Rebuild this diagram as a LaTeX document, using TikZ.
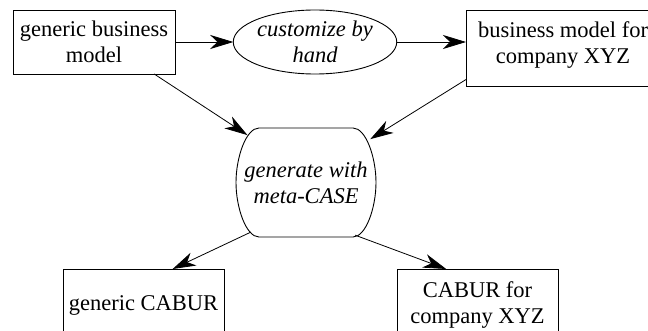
\documentclass[tikz,border=0pt]{standalone}
\usepackage{fontspec}
\setmainfont{Liberation Serif}
\usetikzlibrary{arrows.meta,shapes.geometric}
\begin{document}
\begin{tikzpicture}[x=1pt,y=-1pt,
  basefont/.style={font=\rmfamily\fontsize{22.5}{26}\selectfont},
  every node/.style={basefont, inner sep=0pt, outer sep=0pt, align=center},
  box/.style={draw, line width=0.9pt, rectangle},
  task/.style={font=\rmfamily\itshape\fontsize{22.5}{26}\selectfont},
  outline/.style={line width=0.9pt},
  link/.style={line width=0.8pt, -{Stealth[length=23pt,width=14pt,inset=7pt]}},
]
\useasboundingbox (0,0) rectangle (648,331);
\clip (0,0) rectangle (648,331);

% business models
\node[box, minimum width=162pt, minimum height=64pt] (A) at (94,42) {generic business\\model};
\node[task, draw, line width=0.9pt, ellipse, minimum width=160pt, minimum height=64pt] (B) at (315,42) {customize by\\hand};
\node[box, minimum width=194pt, minimum height=76pt] (C) at (563,48) {};
\node (Ct) at (563,44.75) {business model for\\company XYZ};

% generator: text node, its bulging outline drawn below
\node[task, ellipse, minimum width=176pt, minimum height=127pt] (D) at (306,182.5) {generate with\\meta-CASE};
\draw[outline] ([shift={(-47,-54.5)}]D.center) -- ([shift={(47,-54.5)}]D.center)
  .. controls ([shift={(60,-54.5)}]D.center) and ([shift={(70,-25)}]D.center) .. ([shift={(70,0)}]D.center)
  .. controls ([shift={(70,25)}]D.center) and ([shift={(60,54.5)}]D.center) .. ([shift={(47,54.5)}]D.center)
  -- ([shift={(-47,54.5)}]D.center)
  .. controls ([shift={(-60,54.5)}]D.center) and ([shift={(-70,25)}]D.center) .. ([shift={(-70,0)}]D.center)
  .. controls ([shift={(-70,-25)}]D.center) and ([shift={(-60,-54.5)}]D.center) .. ([shift={(-47,-54.5)}]D.center)
  -- cycle;

% generated results
\node[box, minimum width=161pt, minimum height=72pt] (E) at (143.5,305) {generic CABUR};
\node[box, minimum width=161pt, minimum height=72pt] (F) at (477.5,305) {CABUR for\\company XYZ};

% connectors
\draw[link] (A.east) -- (B.west);
\draw[link] (B.east) -- (B.east -| C.west);
\draw[link] (A.-28) -- (D.141);
\draw[link] (C.198) -- (D.34);
\draw[link] (D.222) -- (E.51);
\draw[link] (D.-47) -- (F.131);
\end{tikzpicture}
\end{document}
